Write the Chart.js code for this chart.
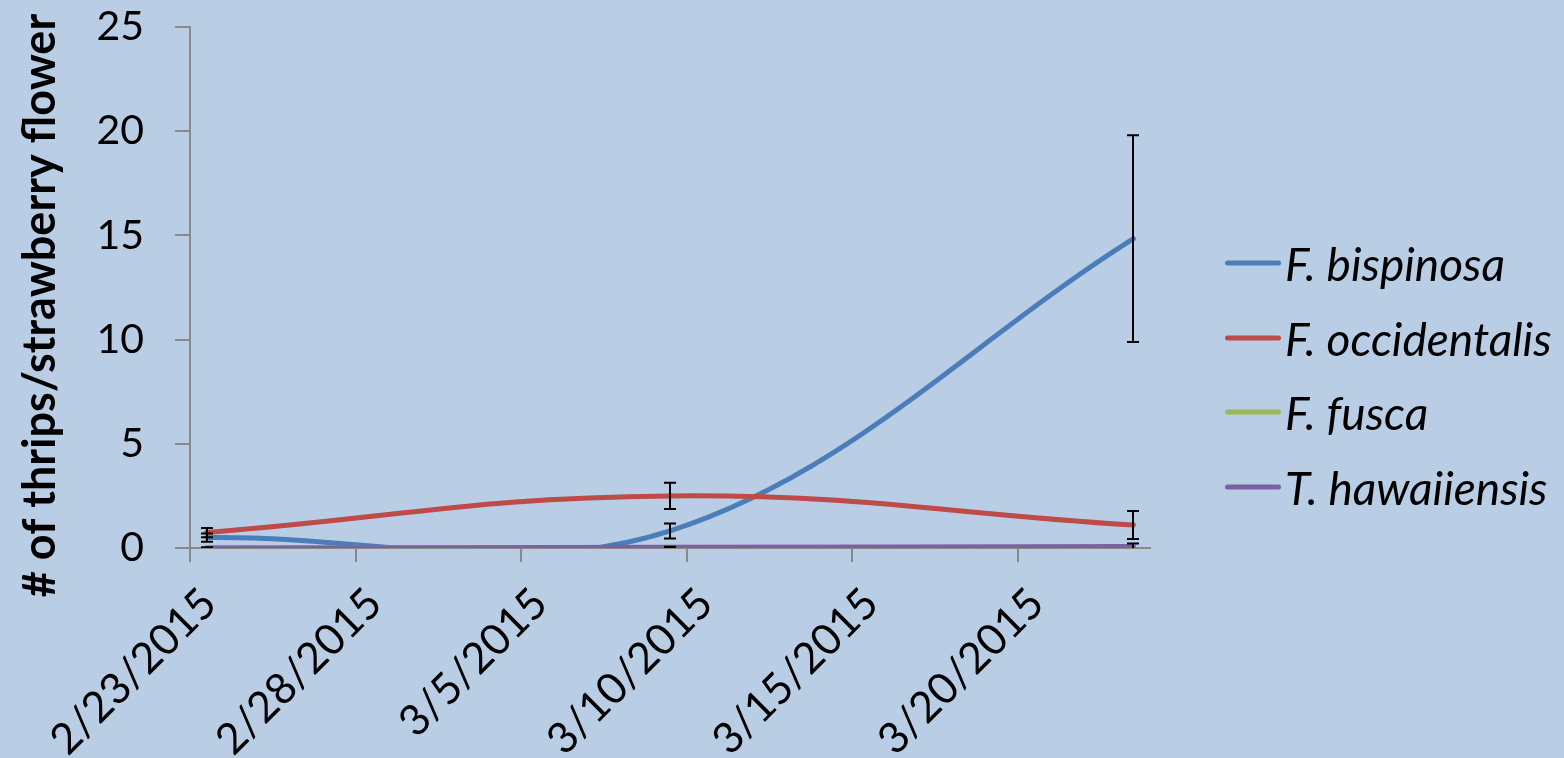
<!DOCTYPE html>
<html>
<head>
<meta charset="utf-8">
<script src="https://cdn.jsdelivr.net/npm/chart.js@4.4.1/dist/chart.umd.min.js"></script>
<style>
  html, body { margin: 0; padding: 0; background: #B9CDE5; }
  #wrap { position: relative; width: 1564px; height: 758px; }
  #legend { position: absolute; left: 1225px; top: 0; font-family: Lato, sans-serif; font-style: italic; font-size: 46px; color: #000; }
  .item { position: absolute; left: 0; display: flex; align-items: center; white-space: nowrap; transform: translateY(-50%); }
  .swatch { width: 56px; height: 5px; border-radius: 3px; margin-right: 4px; }
</style>
</head>
<body>
<div id="wrap">
  <canvas id="c" width="1564" height="758"></canvas>
  <div id="legend"></div>
</div>
<script>
// ---- data ----
const sampleDates = ['2/23/2015', '3/9/2015', '3/23/2015'];
const seriesNames = ['F. bispinosa', 'F. occidentalis', 'F. fusca', 'T. hawaiiensis'];
const seriesColors = ['#4A7EBB', '#BE4B48', '#98B954', '#7D60A0'];
const bispinosa = [0.50, 0.82, 14.84];
const occidentalis = [0.74, 2.50, 1.10];
const fusca = [0, 0, 0];
const hawaiiensis = [0, 0.03, 0.07];
const bispinosaErr = [0.20, 0.36, 4.96];
const occidentalisErr = [0.22, 0.63, 0.67];
const fuscaErr = [0, 0, 0];
const hawaiiensisErr = [0.03, 0.03, 0.15];
const xTickLabels = ['2/23/2015', '2/28/2015', '3/5/2015', '3/10/2015', '3/15/2015', '3/20/2015'];
const axisStart = '2/23/2015';
const axisEnd = '3/24/2015';
const yTicks = [0, 5, 10, 15, 20, 25];
const yTitle = '# of thrips/strawberry flower';

// ---- helpers ----
const DAY = 86400000;
function dayNum(s) {
  const [m, d, y] = s.split('/').map(Number);
  return (Date.UTC(y, m - 1, d) - Date.UTC(2015, 1, 23)) / DAY;
}
const xMin = dayNum(axisStart);
const xMax = dayNum(axisEnd);
const xs = sampleDates.map(s => dayNum(s) + 0.5);
const tickDays = xTickLabels.map(dayNum);

const allValues = [bispinosa, occidentalis, fusca, hawaiiensis];
const allErrs = [bispinosaErr, occidentalisErr, fuscaErr, hawaiiensisErr];
const orders = [3, 2, 1, 0];
const tensions = [0.36, 0.42, 0.42, 0.42];

const datasets = seriesNames.map((name, i) => ({
  label: name,
  data: xs.map((x, j) => ({ x: x, y: allValues[i][j] })),
  borderColor: seriesColors[i],
  backgroundColor: seriesColors[i],
  borderWidth: 5,
  pointRadius: 0,
  tension: tensions[i],
  order: orders[i],
  errs: allErrs[i],
  borderCapStyle: 'round'
}));

const GRAY = '#898989';

const errorBars = {
  id: 'errorBars',
  afterDatasetsDraw(chart) {
    const ctx = chart.ctx;
    const xS = chart.scales.x, yS = chart.scales.y;
    const area = chart.chartArea;
    ctx.save();
    ctx.beginPath();
    ctx.rect(area.left - 10, area.top - 10, area.right - area.left + 20, area.bottom - area.top + 10);
    ctx.clip();
    ctx.strokeStyle = '#000';
    ctx.lineWidth = 2;
    chart.data.datasets.forEach(ds => {
      ds.data.forEach((p, j) => {
        const e = ds.errs[j];
        if (!e) return;
        const px = Math.round(xS.getPixelForValue(p.x));
        const top = yS.getPixelForValue(p.y + e);
        const bot = yS.getPixelForValue(p.y - e);
        ctx.beginPath();
        ctx.moveTo(px, top); ctx.lineTo(px, bot);
        ctx.moveTo(px - 6, top); ctx.lineTo(px + 6, top);
        ctx.moveTo(px - 6, bot); ctx.lineTo(px + 6, bot);
        ctx.stroke();
      });
    });
    ctx.restore();
  }
};

const yTitlePlugin = {
  id: 'yTitlePlugin',
  afterDraw(chart) {
    const ctx = chart.ctx;
    const a = chart.chartArea;
    ctx.save();
    ctx.translate(55, (a.top + a.bottom) / 2 + 18);
    ctx.rotate(-Math.PI / 2);
    ctx.font = 'bold 45px Lato';
    ctx.fillStyle = '#000';
    ctx.textAlign = 'center';
    ctx.textBaseline = 'alphabetic';
    ctx.fillText(yTitle, 0, 0);
    ctx.restore();
  }
};

const chart = new Chart(document.getElementById('c'), {
  type: 'line',
  data: { datasets: datasets },
  options: {
    responsive: false,
    animation: false,
    layout: { padding: { top: 0, right: 414, left: 0, bottom: 0 } },
    elements: { line: { capBezierPoints: false } },
    plugins: { legend: { display: false }, tooltip: { enabled: false } },
    scales: {
      x: {
        type: 'linear',
        min: xMin, max: xMax,
        afterBuildTicks: s => { s.ticks = tickDays.map(v => ({ value: v })); },
        afterFit: s => { s.height = 210; },
        ticks: {
          callback: (v, i) => xTickLabels[i],
          minRotation: 45, maxRotation: 45,
          font: { family: 'Lato', size: 43 },
          color: '#000',
          padding: 16,
          labelOffset: 19,
          autoSkip: false
        },
        grid: { drawOnChartArea: false, drawTicks: true, tickLength: 14, color: GRAY, lineWidth: 2 },
        border: { display: true, color: GRAY, width: 2 }
      },
      y: {
        min: 0, max: 25,
        afterBuildTicks: s => { s.ticks = yTicks.map(v => ({ value: v })); },
        afterFit: s => { s.width = 190; s.paddingTop = 27; s.paddingBottom = 0; },
        ticks: {
          font: { family: 'Lato', size: 41 },
          color: '#000',
          padding: 31
        },
        grid: { drawOnChartArea: false, drawTicks: true, tickLength: 15, color: GRAY, lineWidth: 2 },
        border: { display: true, color: GRAY, width: 2 }
      }
    }
  },
  plugins: [errorBars, yTitlePlugin]
});

// ---- HTML legend ----
const legend = document.getElementById('legend');
const legendYs = [263, 338, 412, 487];
seriesNames.forEach((name, i) => {
  const it = document.createElement('div');
  it.className = 'item';
  it.style.top = legendYs[i] + 'px';
  const sw = document.createElement('span');
  sw.className = 'swatch';
  sw.style.background = seriesColors[i];
  const tx = document.createElement('span');
  tx.textContent = name;
  it.appendChild(sw); it.appendChild(tx);
  legend.appendChild(it);
});
</script>
</body>
</html>
